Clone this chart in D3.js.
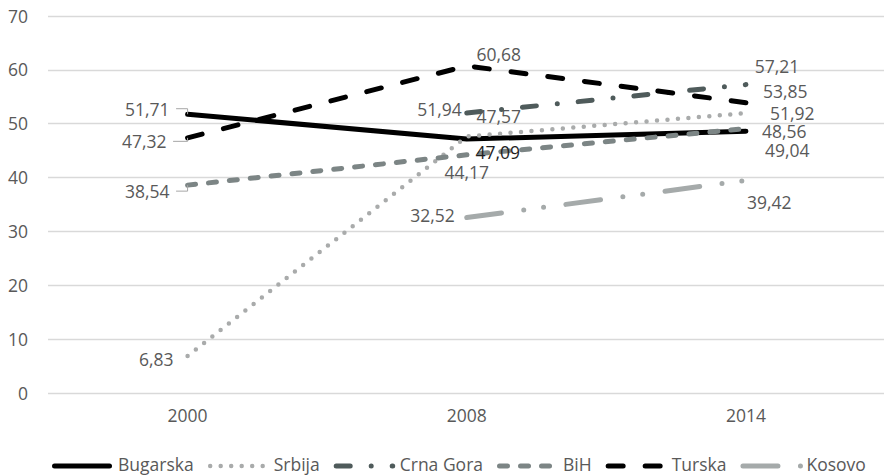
<!DOCTYPE html>
<html>
<head>
<meta charset="utf-8">
<script src="https://cdn.jsdelivr.net/npm/d3@7"></script>
<style>
  html, body { margin: 0; padding: 0; background: #fff; }
  svg { display: block; font-family: "Open Sans", "Noto Sans", sans-serif; }
</style>
</head>
<body>
<svg id="chart" width="884" height="476"></svg>
<script>
// ---- data ----
const years = ["2000", "2008", "2014"];
const seriesNames = ["Bugarska", "Srbija", "Crna Gora", "BiH", "Turska", "Kosovo"];
const bugarska = [51.71, 47.09, 48.56];
const srbija   = [6.83, 47.57, 51.92];
const crnaGora = [null, 51.94, 57.21];
const bih      = [38.54, 44.17, 49.04];
const turska   = [47.32, 60.68, 53.85];
const kosovo   = [null, 32.52, 39.42];
const yTicks = [0, 10, 20, 30, 40, 50, 60, 70];

const seriesValues = [bugarska, srbija, crnaGora, bih, turska, kosovo];

// ---- line styles per series ----
const styles = [
  { color: "#000000", width: 5,   dash: null },
  { color: "#a9abab", width: 4.5, dash: "0 10.5" },
  { color: "#4f5b5b", width: 5,   dash: "14 21 0 21" },
  { color: "#7c8585", width: 5,   dash: "8 13" },
  { color: "#000000", width: 5,   dash: "15 22" },
  { color: "#a5aaaa", width: 5,   dash: "35 22.5 0 20 0 22.5" }
];

// ---- data label placement (offsets from each point, in px) ----
const labelPlacement = [
  [{ a: "end", dx: -18, dy: -5, leader: true }, { a: "middle", dx: 31, dy: 14, dark: true }, { a: "start", dx: 16, dy: 1 }],
  [{ a: "end", dx: -14, dy: 4 }, { a: "middle", dx: 32, dy: -19.5 }, { a: "start", dx: 24, dy: 1 }],
  [null, { a: "end", dx: -5, dy: -3 }, { a: "middle", dx: 31, dy: -18 }],
  [{ a: "end", dx: -18, dy: 6.5, leader: true }, { a: "middle", dx: 0, dy: 18 }, { a: "start", dx: 19, dy: 22 }],
  [{ a: "end", dx: -21, dy: 4, leader: true }, { a: "middle", dx: 32, dy: -11 }, { a: "start", dx: 17, dy: -11 }],
  [null, { a: "end", dx: -12, dy: -2 }, { a: "start", dx: 1, dy: 22 }]
];

const textColor = "#595959";
const fontSize = 17.5;
const fmtNum = d3.formatLocale({ decimal: ",", thousands: ".", grouping: [3], currency: ["", ""] }).format(".2f");

const svg = d3.select("#chart");

const x = d3.scaleBand().domain(years).range([48, 885.5]).paddingInner(0).paddingOuter(0);
const xc = d => x(d) + x.bandwidth() / 2;
const y = d3.scaleLinear().domain([0, 70]).range([392.7, 15.7]);

// gridlines
svg.append("g").selectAll("line").data(yTicks).join("line")
  .attr("x1", 48).attr("x2", 884)
  .attr("y1", d => Math.round(y(d)) + 0.5).attr("y2", d => Math.round(y(d)) + 0.5)
  .attr("stroke", "#d9d9d9").attr("stroke-width", 1.3);

// y axis labels
const yAxis = svg.append("g").attr("transform", "translate(28,0)")
  .call(d3.axisLeft(y).tickValues(yTicks).tickSize(0).tickPadding(0).tickFormat(d3.format("d")));
yAxis.select(".domain").remove();
yAxis.selectAll("text").attr("fill", textColor).attr("font-size", fontSize)
  .attr("font-family", "Open Sans, sans-serif").attr("dy", "0.36em");

// x axis labels
const xAxis = svg.append("g").attr("transform", "translate(0,416)")
  .call(d3.axisBottom(x).tickSize(0).tickPadding(0));
xAxis.select(".domain").remove();
xAxis.selectAll("text").attr("fill", textColor).attr("font-size", fontSize)
  .attr("font-family", "Open Sans, sans-serif").attr("dy", "0.36em");

// series lines
const lineGen = d3.line()
  .defined(d => d.v !== null)
  .x(d => xc(d.year))
  .y(d => y(d.v));

seriesValues.forEach((vals, i) => {
  const pts = vals.map((v, j) => ({ year: years[j], v }));
  const s = styles[i];
  svg.append("path")
    .datum(pts)
    .attr("d", lineGen)
    .attr("fill", "none")
    .attr("stroke", s.color)
    .attr("stroke-width", s.width)
    .attr("stroke-linecap", "round")
    .attr("stroke-linejoin", "round")
    .attr("stroke-dasharray", s.dash);
});

// data labels
const labels = svg.append("g");
seriesValues.forEach((vals, i) => {
  vals.forEach((v, j) => {
    const p = labelPlacement[i][j];
    if (v === null || !p) return;
    const px = xc(years[j]), py = y(v);
    const tx = px + p.dx, ty = py + p.dy;
    const t = labels.append("text")
      .attr("x", tx).attr("y", ty).attr("dy", "0.36em")
      .attr("text-anchor", p.a)
      .attr("font-size", fontSize)
      .attr("fill", p.dark ? "#1e1e1e" : textColor)
      .text(fmtNum(v));
    if (p.leader) {
      const ly = ty - 0.5;
      labels.append("polyline")
        .attr("points", [[tx + 6.5, ly], [px, ly], [px, py]].map(q => q.join(",")).join(" "))
        .attr("fill", "none").attr("stroke", "#a6a6a6").attr("stroke-width", 1);
    }
  });
});

// legend
const legend = svg.append("g").attr("transform", "translate(0,465)");
let lx = 52;
seriesNames.forEach((name, i) => {
  const s = styles[i];
  legend.append("line")
    .attr("x1", lx + 2.5)
    .attr("x2", lx + (i === 2 ? 59 : i === 5 ? 60.5 : 57.5))
    .attr("y1", 1).attr("y2", 1)
    .attr("stroke", s.color)
    .attr("stroke-width", s.width)
    .attr("stroke-linecap", "round")
    .attr("stroke-dasharray", s.dash);
  const t = legend.append("text")
    .attr("x", lx + 66).attr("y", 0).attr("dy", "0.36em")
    .attr("font-size", fontSize).attr("fill", textColor)
    .text(name);
  lx += 66 + t.node().getComputedTextLength() + 14;
});
</script>
</body>
</html>
